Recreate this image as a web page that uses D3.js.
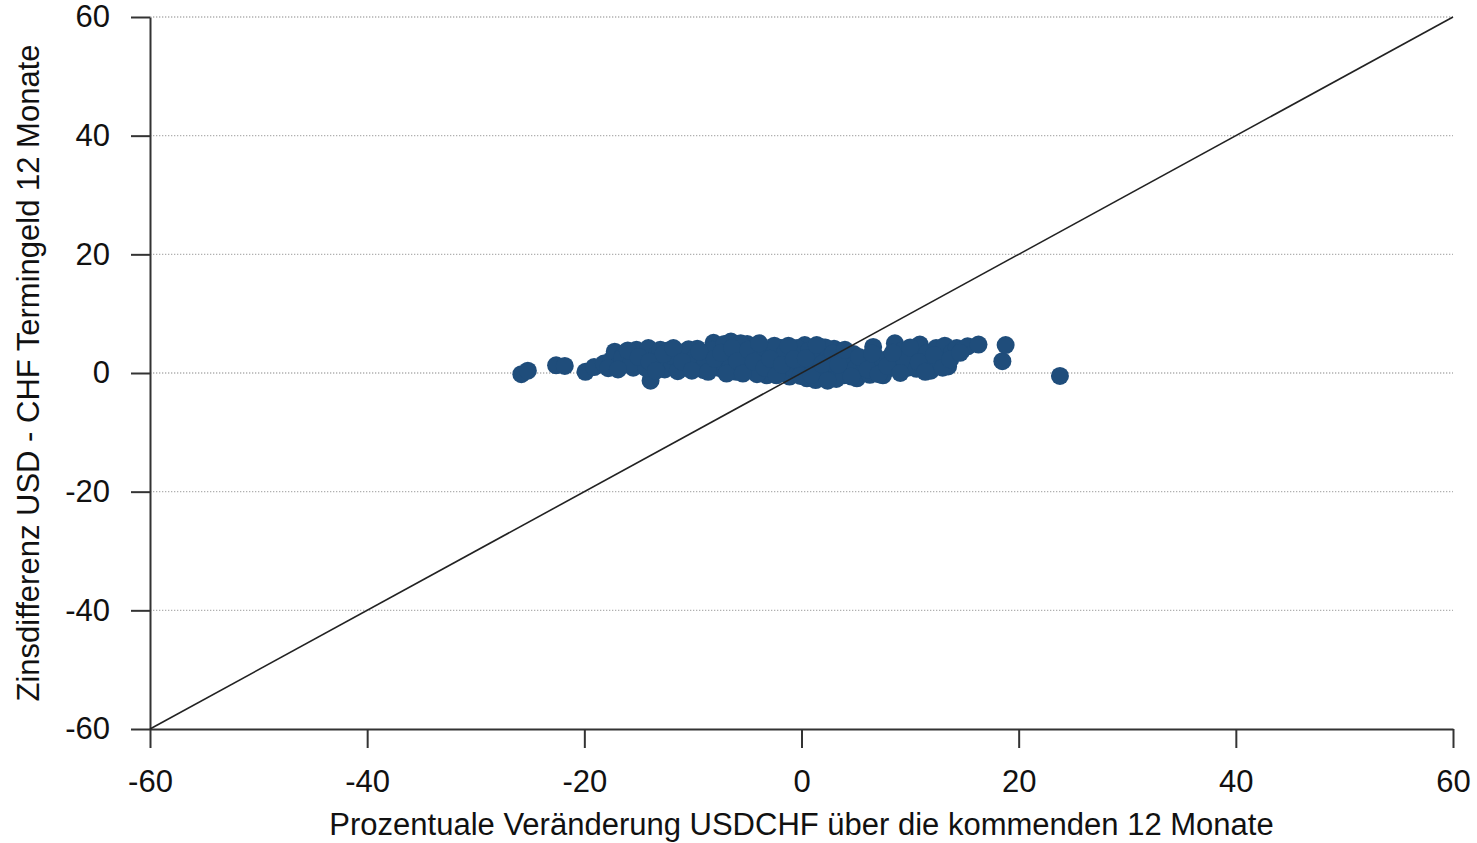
<!DOCTYPE html>
<html>
<head>
<meta charset="utf-8">
<script src="https://cdn.jsdelivr.net/npm/d3@7"></script>
<style>
  body { margin: 0; background: #fff; }
  text { font-family: "Liberation Sans", Arial, sans-serif; fill: #111; }
</style>
</head>
<body>
<svg id="chart"></svg>
<script>
// chart size and margins
let W = 1477, H = 843;
let mar = { top: 17, right: 24, bottom: 114, left: 150 };

// axis ticks
let xTicks = [-60, -40, -20, 0, 20, 40, 60];
let yTicks = [-60, -40, -20, 0, 20, 40, 60];
let gridTicks = [-40, -20, 0, 20, 40, 60];

// x: % change USDCHF over the next 12 months, y: interest differential
let xVals = [-25.8,-25.2,-22.6,-21.8,-19.9,-19.1,-18.2,-17.5,-17.2,-16.8,-16.3,-15.9,-15.5,-15.2,-14.8,-14.5,-14.1,-13.9,-13.6,-13.3,
  -12.9,-12.6,-12.3,-11.9,-11.6,-11.2,-10.9,-10.6,-10.2,-9.9,-9.6,-9.3,-9.0,-8.7,-8.4,-8.1,-7.8,-7.5,-7.3,-7.0,
  -6.8,-6.5,-6.3,-6.0,-5.8,-5.5,-5.3,-5.0,-4.8,-4.5,-4.3,-4.0,-3.8,-3.5,-3.2,-3.0,-2.7,-2.4,-2.2,-1.9,
  -1.6,-1.4,-1.1,-0.8,-0.6,-0.3,0.0,0.3,0.5,0.8,1.0,1.3,1.5,1.8,2.0,2.3,2.5,2.8,3.0,3.3,
  3.6,3.9,4.2,4.5,4.8,5.1,5.4,5.7,6.0,6.3,6.6,6.9,7.3,7.7,8.1,8.6,8.9,9.3,9.8,10.3,
  10.9,11.3,11.6,11.9,12.4,12.8,13.2,13.5,13.9,14.3,14.8,15.3,16.3,18.5,18.8,23.8,
  -17.8,-16.5,-15.7,-14.3,-13.0,-12.0,-11.4,-10.4,-9.7,-8.9,-8.2,-7.6,-7.1,-6.6,-6.1,-5.6,-5.1,-4.6,-4.1,-3.6,
  -3.1,-2.5,-2.0,-1.5,-0.9,-0.4,0.2,0.7,1.2,1.7,2.2,2.7,3.2,3.7,4.4,5.0,5.9,6.8,7.5,9.5,
  10.6,12.0,
  -16.9,-16.0,-15.0,-14.0,-13.4,-12.7,-11.8,-11.0,-10.1,-9.4,-8.6,-8.0,-7.4,-6.9,-6.4,-5.9,-5.4,-4.9,-4.4,-3.9,
  -3.4,-2.9,-2.3,-1.8,-1.2,-0.7,-0.1,0.4,0.9,1.4,1.9,2.4,2.9,3.4,4.0,4.6,5.3,6.1,6.5,7.1,
  7.9,8.4,9.1,10.0,10.8,11.4,12.2,13.0,13.7,14.6];
let yVals = [-0.2,0.4,1.3,1.2,0.2,1.0,1.6,2.2,3.6,1.4,3.3,2.4,0.9,3.9,1.8,2.9,4.2,-1.3,1.2,3.1,
  2.2,0.6,3.8,1.6,2.7,3.5,0.9,2.1,3.2,1.4,4.1,2.6,0.5,3.3,1.9,5.1,2.8,0.8,4.4,1.7,
  3.6,5.3,2.3,0.2,4.0,1.4,3.0,4.9,2.0,0.6,3.5,1.2,4.3,2.6,-0.4,3.9,1.8,0.4,3.1,4.2,
  1.0,2.5,-0.6,3.6,1.6,0.2,2.8,4.7,-0.9,1.3,3.4,-1.2,2.1,4.4,0.4,3.0,-0.8,1.7,4.1,0.9,
  2.5,-0.4,1.6,0.2,3.2,-0.9,1.2,0.1,2.3,-0.3,4.4,0.8,1.9,0.4,2.6,5.0,1.4,3.8,0.9,2.7,
  4.8,1.2,3.4,0.4,4.2,2.6,4.6,1.1,3.5,4.2,3.9,4.5,4.8,2.0,4.7,-0.5,
  0.8,2.6,1.6,0.8,3.9,2.9,0.3,4.0,2.9,1.6,3.9,2.1,4.9,0.9,3.0,5.0,1.0,2.9,-0.2,3.2,
  1.4,4.6,2.2,3.5,0.9,4.2,1.8,3.8,0.6,2.9,4.3,2.4,-1.0,3.7,2.2,0.8,1.3,2.8,-0.4,2.0,
  0.7,2.0,
  0.6,3.8,2.7,1.9,0.4,3.2,4.2,1.9,0.4,3.6,0.2,2.4,3.4,-0.1,4.2,2.0,-0.1,3.9,1.9,5.0,
  0.9,2.4,-0.4,1.4,4.6,2.3,-0.5,2.5,-0.3,4.7,1.5,-1.3,3.3,1.4,3.9,-0.6,2.7,0.6,3.3,-0.2,
  1.2,3.4,0.0,4.3,1.8,0.2,3.0,0.9,2.3,3.4];

let svg = d3.select("#chart")
  .attr("width", W)
  .attr("height", H);

let x = d3.scaleLinear().domain([-60, 60]).range([mar.left, W - mar.right]);
let y = d3.scaleLinear().domain([-60, 60]).range([H - mar.bottom, mar.top]);

// dotted horizontal gridlines
svg.append("g")
  .selectAll("line")
  .data(gridTicks)
  .enter().append("line")
  .attr("x1", x(-60))
  .attr("x2", x(60))
  .attr("y1", d => y(d))
  .attr("y2", d => y(d))
  .style("stroke", "#b0b0b0")
  .style("stroke-width", 1.3)
  .style("stroke-dasharray", "1.3,1.7");

// x axis
let xAxis = svg.append("g")
  .attr("transform", "translate(0," + y(-60) + ")")
  .call(d3.axisBottom(x).tickValues(xTicks).tickFormat(d => String(d))
    .tickSize(19).tickPadding(22).tickSizeOuter(0));

// y axis
let yAxis = svg.append("g")
  .attr("transform", "translate(" + x(-60) + ",0)")
  .call(d3.axisLeft(y).tickValues(yTicks).tickFormat(d => String(d))
    .tickSize(19).tickPadding(21).tickSizeOuter(0));

[xAxis, yAxis].forEach(a => {
  a.select(".domain").style("stroke", "#333").style("stroke-width", 2);
  a.selectAll(".tick line").style("stroke", "#333").style("stroke-width", 2);
  a.selectAll(".tick text")
    .style("font-family", "'Liberation Sans', Arial, sans-serif")
    .style("font-size", "31px")
    .style("fill", "#111");
});

// points
let pts = xVals.map((v, i) => ({ x: v, y: yVals[i] }));
svg.append("g")
  .selectAll("circle")
  .data(pts)
  .enter().append("circle")
  .attr("cx", d => x(d.x))
  .attr("cy", d => y(d.y))
  .attr("r", 9)
  .style("fill", "#1f4d7b");

// 45 degree line
svg.append("line")
  .attr("x1", x(-60))
  .attr("y1", y(-60))
  .attr("x2", x(60))
  .attr("y2", y(60))
  .style("stroke", "#222")
  .style("stroke-width", 1.6);

// axis titles
svg.append("text")
  .attr("x", (x(-60) + x(60)) / 2)
  .attr("y", 835)
  .attr("text-anchor", "middle")
  .style("font-size", "31px")
  .text("Prozentuale Veränderung USDCHF über die kommenden 12 Monate");

svg.append("text")
  .attr("transform", "translate(39," + y(0) + ") rotate(-90)")
  .attr("text-anchor", "middle")
  .style("font-size", "31px")
  .text("Zinsdifferenz USD - CHF Termingeld 12 Monate");
</script>
</body>
</html>
